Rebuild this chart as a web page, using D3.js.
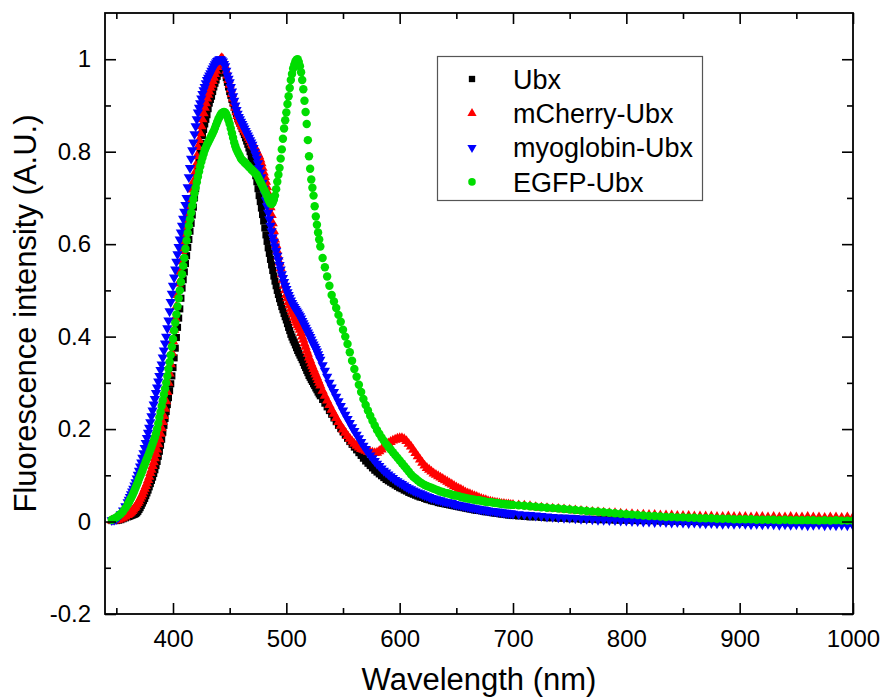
<!DOCTYPE html>
<html><head><meta charset="utf-8">
<script src="https://cdn.jsdelivr.net/npm/d3@7"></script>
<style>body{margin:0;background:#fff;} text{font-family:"Liberation Sans",Arial,sans-serif;}</style>
</head><body><svg id="c" width="881" height="699"></svg>
<script>
// sampling grid (nm): 2 nm start, 1 nm through the peaks, 2 nm decay, 5 nm tail
const wlStart = d3.range(346, 360, 2);    // 346..358 (7)
const wlPeak  = d3.range(360, 531, 1);    // 360..530 (171)
const wlFall  = d3.range(532, 701, 2);    // 532..700 (85)
const wlTail  = d3.range(705, 1001, 5);   // 705..1000 (60)
const wavelengths = wlStart.concat(wlPeak, wlFall, wlTail);

// ---- Ubx (black squares)
const ubxStart = [0.002,0.002,0.002,0.003,0.004,0.006,0.008];
const ubxPeak = [
0.010,0.011,0.012,0.013,0.014,0.015,0.016,0.017,0.019,0.022,
0.026,0.030,0.035,0.040,0.045,0.050,0.056,0.062,0.068,0.075,
0.082,0.089,0.096,0.104,0.112,0.121,0.130,0.141,0.152,0.165,
0.178,0.193,0.208,0.223,0.238,0.253,0.268,0.283,0.298,0.315,
0.333,0.354,0.375,0.398,0.420,0.440,0.460,0.483,0.505,0.523,
0.540,0.558,0.575,0.593,0.610,0.628,0.645,0.663,0.680,0.700,
0.720,0.740,0.760,0.780,0.800,0.818,0.835,0.848,0.860,0.870,
0.880,0.893,0.905,0.913,0.920,0.930,0.940,0.948,0.955,0.963,
0.970,0.975,0.980,0.982,0.983,0.978,0.970,0.960,0.950,0.940,
0.930,0.922,0.913,0.905,0.897,0.890,0.882,0.875,0.868,0.862,
0.856,0.850,0.843,0.837,0.830,0.823,0.816,0.808,0.800,0.790,
0.780,0.770,0.760,0.748,0.735,0.720,0.705,0.692,0.678,0.664,
0.650,0.635,0.620,0.606,0.592,0.580,0.567,0.555,0.543,0.531,
0.520,0.510,0.500,0.491,0.482,0.474,0.465,0.458,0.450,0.443,
0.436,0.428,0.420,0.413,0.405,0.399,0.393,0.388,0.382,0.376,
0.370,0.365,0.360,0.355,0.350,0.344,0.338,0.333,0.327,0.322,
0.316,0.312,0.307,0.303,0.298,0.294,0.289,0.285,0.280,0.276,
0.272];
const ubxFall = [
0.264,0.256,0.248,0.240,0.232,0.224,0.216,
0.208,0.201,0.194,0.187,0.180,0.173,0.167,0.161,0.155,0.149,
0.143,0.137,0.131,0.126,0.121,0.116,0.111,0.107,0.103,0.099,
0.095,0.091,0.088,0.085,0.082,0.079,0.076,0.073,0.071,0.068,
0.066,0.063,0.061,0.059,0.057,0.055,0.053,0.052,0.050,0.048,
0.047,0.045,0.044,0.043,0.041,0.040,0.039,0.038,0.037,0.036,
0.035,0.034,0.033,0.032,0.031,0.030,0.029,0.028,0.027,0.026,
0.025,0.024,0.024,0.023,0.022,0.021,0.021,0.020,0.019,0.018,
0.018,0.017,0.016,0.016,0.015,0.014,0.014,0.013];
const ubxTail = [
0.012,0.011,0.010,0.010,0.009,0.008,0.008,0.007,0.007,0.006,
0.006,0.005,0.005,0.005,0.004,0.004,0.004,0.003,0.003,0.003,
0.003,0.002,0.002,0.002,0.002,0.001,0.001,0.001,0.001,0.000,
0.001,0.000,0.000,-0.001,0.000,-0.001,0.000,-0.001,-0.001,-0.001,
-0.002,-0.001,-0.002,-0.001,-0.002,-0.002,-0.001,-0.002,-0.003,-0.002,
-0.002,-0.003,-0.002,-0.003,-0.002,-0.003,-0.003,-0.002,-0.003,-0.003];

// ---- mCherry-Ubx (red triangles)
const mCherryStart = [0.002,0.002,0.003,0.004,0.006,0.008,0.011];
const mCherryPeak = [
0.014,0.016,0.018,0.020,0.023,0.026,0.029,0.032,0.036,0.040,
0.044,0.049,0.054,0.059,0.065,0.071,0.077,0.083,0.090,0.097,
0.105,0.112,0.120,0.128,0.137,0.146,0.156,0.167,0.178,0.190,
0.202,0.215,0.228,0.244,0.260,0.280,0.300,0.320,0.340,0.365,
0.390,0.415,0.440,0.465,0.490,0.515,0.540,0.563,0.585,0.603,
0.620,0.635,0.650,0.663,0.675,0.688,0.700,0.718,0.735,0.753,
0.770,0.790,0.810,0.825,0.840,0.855,0.870,0.883,0.895,0.905,
0.915,0.923,0.930,0.938,0.945,0.953,0.960,0.968,0.975,0.983,
0.990,0.996,1.000,1.002,1.000,0.993,0.985,0.975,0.965,0.955,
0.945,0.935,0.925,0.915,0.905,0.895,0.885,0.877,0.870,0.865,
0.860,0.855,0.850,0.847,0.843,0.839,0.835,0.830,0.825,0.820,
0.815,0.813,0.810,0.805,0.800,0.795,0.790,0.783,0.775,0.765,
0.755,0.745,0.735,0.723,0.710,0.695,0.680,0.663,0.645,0.628,
0.610,0.598,0.585,0.573,0.560,0.548,0.535,0.523,0.510,0.500,
0.490,0.483,0.475,0.468,0.460,0.454,0.448,0.441,0.435,0.430,
0.425,0.420,0.415,0.408,0.400,0.393,0.385,0.378,0.370,0.363,
0.355,0.349,0.342,0.336,0.330,0.324,0.318,0.312,0.306,0.300,
0.294];
const mCherryFall = [
0.283,0.272,0.262,0.252,0.242,0.233,0.224,
0.215,0.207,0.199,0.192,0.185,0.179,0.173,0.168,0.164,0.160,
0.157,0.155,0.153,0.151,0.150,0.149,0.148,0.149,0.152,0.156,
0.160,0.165,0.169,0.172,0.175,0.177,0.179,0.180,0.180,0.178,
0.174,0.168,0.162,0.155,0.148,0.141,0.134,0.127,0.121,0.116,
0.112,0.108,0.104,0.101,0.098,0.095,0.092,0.089,0.086,0.083,
0.080,0.077,0.074,0.071,0.069,0.066,0.063,0.061,0.059,0.057,
0.055,0.053,0.051,0.049,0.047,0.046,0.044,0.043,0.042,0.041,
0.040,0.039,0.038,0.038,0.037,0.037,0.036,0.036];
const mCherryTail = [
0.035,0.034,0.033,0.031,0.030,0.029,0.028,0.027,0.026,0.025,
0.024,0.023,0.022,0.021,0.020,0.019,0.018,0.018,0.017,0.016,
0.016,0.015,0.015,0.014,0.014,0.013,0.013,0.013,0.012,0.012,
0.012,0.011,0.011,0.011,0.011,0.010,0.010,0.011,0.010,0.010,
0.010,0.009,0.010,0.010,0.009,0.010,0.009,0.009,0.010,0.009,
0.009,0.010,0.009,0.009,0.008,0.009,0.009,0.008,0.009,0.009];

// ---- myoglobin-Ubx (blue inverted triangles)
const myoglobinStart = [0.003,0.004,0.006,0.010,0.016,0.024,0.033];
const myoglobinPeak = [
0.042,0.047,0.053,0.059,0.065,0.071,0.078,0.085,0.093,0.101,
0.110,0.119,0.128,0.138,0.148,0.159,0.170,0.181,0.192,0.203,
0.215,0.228,0.240,0.253,0.265,0.278,0.290,0.303,0.315,0.328,
0.340,0.355,0.370,0.385,0.400,0.418,0.435,0.455,0.475,0.493,
0.510,0.528,0.545,0.562,0.578,0.594,0.610,0.625,0.640,0.655,
0.670,0.685,0.700,0.723,0.745,0.765,0.785,0.803,0.820,0.838,
0.855,0.870,0.885,0.895,0.905,0.915,0.925,0.933,0.940,0.948,
0.955,0.960,0.965,0.970,0.975,0.980,0.985,0.989,0.993,0.996,
0.998,1.000,1.000,0.998,0.995,0.990,0.985,0.975,0.965,0.958,
0.950,0.940,0.930,0.920,0.910,0.900,0.890,0.882,0.875,0.870,
0.865,0.860,0.855,0.850,0.845,0.840,0.835,0.830,0.825,0.820,
0.815,0.808,0.800,0.793,0.785,0.775,0.765,0.755,0.745,0.733,
0.720,0.708,0.695,0.682,0.668,0.654,0.640,0.628,0.615,0.605,
0.595,0.585,0.575,0.565,0.555,0.545,0.535,0.527,0.518,0.510,
0.503,0.496,0.490,0.484,0.478,0.473,0.468,0.464,0.460,0.456,
0.452,0.448,0.444,0.439,0.434,0.429,0.424,0.419,0.414,0.409,
0.404,0.399,0.394,0.388,0.383,0.378,0.373,0.368,0.362,0.356,
0.350];
const myoglobinFall = [
0.338,0.326,0.313,0.300,0.290,0.280,0.270,
0.260,0.250,0.240,0.231,0.222,0.213,0.204,0.196,0.188,0.180,
0.172,0.164,0.157,0.150,0.143,0.137,0.131,0.125,0.120,0.115,
0.110,0.106,0.102,0.098,0.094,0.090,0.087,0.084,0.081,0.078,
0.075,0.072,0.070,0.067,0.065,0.063,0.061,0.059,0.057,0.055,
0.053,0.051,0.050,0.048,0.047,0.046,0.044,0.043,0.042,0.041,
0.040,0.038,0.037,0.036,0.035,0.034,0.033,0.032,0.031,0.030,
0.029,0.028,0.027,0.026,0.026,0.025,0.024,0.023,0.023,0.022,
0.021,0.021,0.020,0.019,0.019,0.018,0.018,0.017];
const myoglobinTail = [
0.016,0.015,0.014,0.013,0.012,0.011,0.010,0.009,0.008,0.008,
0.007,0.006,0.006,0.005,0.004,0.004,0.003,0.003,0.002,0.002,
0.001,0.001,0.000,0.000,-0.001,0.000,-0.001,-0.002,-0.001,-0.002,
-0.003,-0.002,-0.003,-0.004,-0.003,-0.004,-0.005,-0.004,-0.005,-0.004,
-0.005,-0.006,-0.005,-0.006,-0.005,-0.006,-0.007,-0.006,-0.007,-0.006,
-0.007,-0.008,-0.007,-0.006,-0.008,-0.007,-0.008,-0.007,-0.008,-0.008];

// ---- EGFP-Ubx (green circles)
const egfpStart = [0.004,0.006,0.009,0.013,0.017,0.022,0.029];
const egfpPeak = [
0.037,0.041,0.046,0.051,0.056,0.061,0.067,0.073,0.079,0.085,
0.092,0.098,0.104,0.110,0.117,0.123,0.130,0.136,0.142,0.148,
0.155,0.161,0.168,0.175,0.182,0.190,0.200,0.212,0.225,0.237,
0.250,0.262,0.275,0.287,0.300,0.315,0.330,0.345,0.360,0.378,
0.395,0.413,0.430,0.448,0.465,0.483,0.500,0.518,0.535,0.553,
0.570,0.590,0.608,0.624,0.640,0.654,0.668,0.683,0.697,0.710,
0.722,0.734,0.746,0.757,0.768,0.778,0.787,0.795,0.803,0.809,
0.815,0.820,0.825,0.830,0.835,0.840,0.845,0.851,0.858,0.864,
0.870,0.875,0.880,0.883,0.885,0.886,0.885,0.881,0.875,0.868,
0.860,0.850,0.840,0.830,0.820,0.812,0.805,0.800,0.795,0.790,
0.785,0.782,0.780,0.777,0.775,0.772,0.770,0.767,0.765,0.762,
0.760,0.757,0.755,0.752,0.750,0.745,0.740,0.735,0.730,0.725,
0.720,0.715,0.710,0.704,0.697,0.692,0.688,0.687,0.690,0.696,
0.705,0.719,0.735,0.750,0.765,0.785,0.805,0.828,0.850,0.868,
0.885,0.903,0.920,0.938,0.955,0.968,0.980,0.988,0.995,0.999,
1.000,0.994,0.985,0.972,0.955,0.935,0.910,0.886,0.860,0.825,
0.790,0.763,0.740,0.722,0.705,0.682,0.660,0.642,0.625,0.610,
0.595];
const egfpFall = [
0.570,0.550,0.530,0.510,0.490,0.476,0.462,
0.447,0.432,0.415,0.400,0.384,0.366,0.348,0.330,0.313,0.296,
0.280,0.265,0.252,0.240,0.229,0.218,0.208,0.198,0.190,0.182,
0.175,0.168,0.162,0.156,0.150,0.144,0.138,0.132,0.126,0.120,
0.114,0.108,0.102,0.097,0.093,0.089,0.085,0.082,0.079,0.077,
0.075,0.073,0.071,0.069,0.067,0.065,0.064,0.062,0.061,0.060,
0.058,0.057,0.056,0.055,0.053,0.052,0.051,0.050,0.049,0.048,
0.047,0.046,0.046,0.045,0.044,0.043,0.042,0.042,0.041,0.040,
0.040,0.039,0.038,0.038,0.037,0.037,0.036,0.036];
const egfpTail = [
0.035,0.034,0.033,0.032,0.031,0.030,0.029,0.028,0.027,0.026,
0.025,0.024,0.023,0.022,0.021,0.020,0.019,0.018,0.017,0.016,
0.015,0.014,0.013,0.012,0.012,0.011,0.010,0.010,0.009,0.009,
0.008,0.008,0.007,0.007,0.007,0.006,0.006,0.006,0.005,0.005,
0.005,0.005,0.004,0.004,0.004,0.004,0.003,0.004,0.003,0.003,
0.003,0.003,0.003,0.002,0.003,0.002,0.003,0.002,0.002,0.002];

const seriesNames = ["Ubx", "mCherry-Ubx", "myoglobin-Ubx", "EGFP-Ubx"];
const seriesColors = ["#000000", "#ff0000", "#0000ff", "#00dd00"];
const xTicks = [400, 500, 600, 700, 800, 900, 1000];
const xMinorTicks = [350, 450, 550, 650, 750, 850, 950];
const yTicks = [-0.2, 0, 0.2, 0.4, 0.6, 0.8, 1];
const yTickLabels = ["-0.2", "0", "0.2", "0.4", "0.6", "0.8", "1"];
const yMinorTicks = [-0.1, 0.1, 0.3, 0.5, 0.7, 0.9];

const series = [
  ubxStart.concat(ubxPeak, ubxFall, ubxTail),
  mCherryStart.concat(mCherryPeak, mCherryFall, mCherryTail),
  myoglobinStart.concat(myoglobinPeak, myoglobinFall, myoglobinTail),
  egfpStart.concat(egfpPeak, egfpFall, egfpTail)
];

const svg = d3.select("#c");
const L = 105, R = 853, T = 13, B = 614;
const x = d3.scaleLinear().domain([340, 1000]).range([L, R]);
const y = d3.scaleLinear().domain([-0.2, 1.1]).range([B, T]);

svg.append("rect").attr("width", 881).attr("height", 699).attr("fill", "#fff");
svg.append("clipPath").attr("id", "clip").append("rect")
  .attr("x", L).attr("y", T).attr("width", R - L).attr("height", B - T);

const symbols = [
  {type: d3.symbolSquare, size: 50, rot: 0},
  {type: d3.symbolTriangle, size: 46, rot: 0},
  {type: d3.symbolTriangle, size: 46, rot: 180},
  {type: d3.symbolCircle, size: 56, rot: 0}
];

const plot = svg.append("g").attr("clip-path", "url(#clip)");
series.forEach((vals, i) => {
  const n = Math.min(vals.length, wavelengths.length);
  const pts = wavelengths.slice(0, n).map((w, j) => [w, vals[j]]);
  const s = symbols[i];
  const path = d3.symbol().type(s.type).size(s.size)();
  plot.append("g").selectAll("path").data(pts).join("path")
    .attr("d", path)
    .attr("fill", seriesColors[i])
    .attr("transform", d => `translate(${x(d[0])},${y(d[1])}) rotate(${s.rot})`);
});

function styleAxis(g) {
  g.select(".domain").remove();
  g.selectAll(".tick line").attr("stroke", "#000").attr("stroke-width", 1.6);
  g.selectAll(".tick text").attr("fill", "#000").attr("font-size", 24)
    .style("font-family", '"Liberation Sans", Arial, sans-serif');
}
svg.append("g").attr("transform", `translate(0,${B})`)
  .call(d3.axisBottom(x).tickValues(xTicks).tickSize(-11).tickPadding(16).tickFormat(d3.format("d")))
  .call(styleAxis);
svg.append("g").attr("transform", `translate(0,${B})`)
  .call(d3.axisBottom(x).tickValues(xMinorTicks).tickSize(-6).tickFormat(""))
  .call(styleAxis);
svg.append("g").attr("transform", `translate(0,${T})`)
  .call(d3.axisTop(x).tickValues(xTicks).tickSize(-11).tickFormat(""))
  .call(styleAxis);
svg.append("g").attr("transform", `translate(0,${T})`)
  .call(d3.axisTop(x).tickValues(xMinorTicks).tickSize(-6).tickFormat(""))
  .call(styleAxis);
svg.append("g").attr("transform", `translate(${L},0)`)
  .call(d3.axisLeft(y).tickValues(yTicks).tickSize(-11).tickPadding(14).tickFormat((d, i) => yTickLabels[i]))
  .call(styleAxis);
svg.append("g").attr("transform", `translate(${L},0)`)
  .call(d3.axisLeft(y).tickValues(yMinorTicks).tickSize(-6).tickFormat(""))
  .call(styleAxis);
svg.append("g").attr("transform", `translate(${R},0)`)
  .call(d3.axisRight(y).tickValues(yTicks).tickSize(-11).tickFormat(""))
  .call(styleAxis);
svg.append("g").attr("transform", `translate(${R},0)`)
  .call(d3.axisRight(y).tickValues(yMinorTicks).tickSize(-6).tickFormat(""))
  .call(styleAxis);

svg.append("rect").attr("x", L).attr("y", T).attr("width", R - L).attr("height", B - T)
  .attr("fill", "none").attr("stroke", "#000").attr("stroke-width", 1.8);

svg.append("text").attr("x", (L + R) / 2).attr("y", 690).attr("text-anchor", "middle")
  .attr("font-size", 31).attr("fill", "#000").text("Wavelength (nm)");
svg.append("text").attr("transform", `translate(36,${(T + B) / 2}) rotate(-90)`)
  .attr("text-anchor", "middle").attr("font-size", 31).attr("fill", "#000")
  .text("Fluorescence intensity (A.U.)");

const lg = svg.append("g");
lg.append("rect").attr("x", 437.5).attr("y", 56.5).attr("width", 265).attr("height", 144)
  .attr("fill", "#fff").attr("stroke", "#555").attr("stroke-width", 1.2);
seriesNames.forEach((name, i) => {
  const cy = 79 + i * 34.3;
  const s = symbols[i];
  lg.append("path").attr("d", d3.symbol().type(s.type).size(s.size * 0.8)())
    .attr("fill", seriesColors[i])
    .attr("transform", `translate(472,${cy}) rotate(${s.rot})`);
  lg.append("text").attr("x", 513).attr("y", cy).attr("dy", "0.36em")
    .attr("font-size", 27).attr("fill", "#000").text(name);
});
</script>
</body></html>
